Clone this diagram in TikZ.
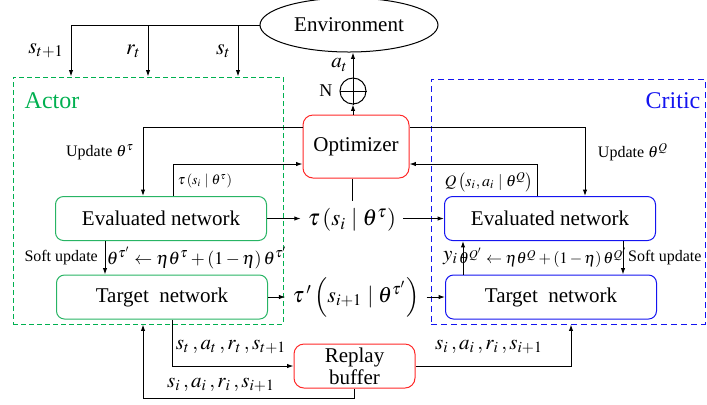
\documentclass[tikz,border=0pt]{standalone}
\usepackage{mathptmx}
\usepackage{fontspec}
\setmainfont{Liberation Serif}
\usepackage{tikz}
\usetikzlibrary{positioning, arrows.meta, shapes.geometric}

\definecolor{actgreen}{RGB}{0,176,80}
\definecolor{netgreen}{RGB}{40,180,100}
\definecolor{optred}{RGB}{255,40,40}
\definecolor{crblue}{RGB}{20,20,240}

\begin{document}
\begin{tikzpicture}[
            x=0.5pt, y=-0.5pt,
            line width=0.5pt,
            font=\fontsize{10.5}{12}\selectfont,
            arr/.style={-{Latex[length=3.2pt,width=2.2pt]}},
            netbox/.style={draw, rounded corners=4pt, minimum width=105.5pt, minimum height=22pt},
            small/.style={font=\fontsize{8}{9}\selectfont},
            tiny/.style={font=\fontsize{7}{8}\selectfont},
            eqn/.style={inner sep=0pt, font=\fontsize{8}{9}\selectfont}
        ]

            \useasboundingbox (0,0) rectangle (707,404);

            % dashed groups
            \node[draw=actgreen, dash pattern=on 2.5pt off 1.5pt, minimum width=135pt, minimum height=123.5pt] (actor) at (148,200.5) {};
            \node[draw=crblue, dash pattern=on 3pt off 2pt, minimum width=137pt, minimum height=122.5pt] (critic) at (568,201.5) {};
            \node[actgreen, font=\fontsize{12}{14}\selectfont] (actorlab) at (52,101) {Actor};
            \node[crblue, font=\fontsize{12}{14}\selectfont] (criticlab) at (673,101) {Critic};

            % main blocks
            \node[draw, ellipse, minimum width=89pt, minimum height=27pt] (env) at (349,25) {Environment};
            \node[draw, circle, minimum size=13pt, inner sep=0pt] (noise) at (353,91) {};
            \draw (noise.north) -- (noise.south) (noise.west) -- (noise.east);
            \node[left=0pt of noise, font=\fontsize{9}{10}\selectfont] (nlab) {N};
            \node[draw=optred, rounded corners=5pt, minimum width=53pt, minimum height=31.5pt] (opt) at (356,146.5) {Optimizer};
            \node[netbox, draw=netgreen] (aeval) at (161,218.5) {Evaluated network};
            \node[netbox, draw=netgreen] (atarget) at (162,297) {Target\ \ network};
            \node[netbox, draw=crblue] (ceval) at (550,218.5) {Evaluated network};
            \node[netbox, draw=crblue] (ctarget) at (551,297) {Target\ \ network};
            \node[draw=optred, rounded corners=5pt, minimum width=60.5pt, minimum height=22pt, align=center, inner sep=1pt, font=\fontsize{10.5}{11}\selectfont] (replay) at (354.5,366) {Replay\\buffer};
            \node[font=\fontsize{11.5}{13}\selectfont] (tau) at (352,220) {$\tau\left(s_i\mid\theta^{\tau}\right)$};
            \node[font=\fontsize{11}{13}\selectfont] (taup) at (356,297) {$\tau\,'\left(s_{i+1}\mid\theta^{\tau'}\right)$};

            % turning points
            \coordinate (snext) at (71,26);
            \coordinate (rt) at (148,26);
            \coordinate (st) at (238,26);
            \coordinate (updA) at (143,127);
            \coordinate (updC) at (585,127);
            \coordinate (tauA) at (173,164);
            \coordinate (qC) at (537,164);
            \coordinate (softA) at (105,258);
            \coordinate (softC) at (623,258);
            \coordinate (yC) at (463,258);
            \coordinate (repA) at (172,366);
            \coordinate (backA) at (143,398);
            \coordinate (repC) at (571,366);

            % environment loop
            \draw[arr] (env.west) -| (snext |- actor.north);
            \draw[arr] (rt) -- (rt |- actor.north);
            \draw[arr] (st) -- (st |- actor.north);
            \node[left, font=\fontsize{11}{12}\selectfont] (snextlab) at (71,51) {$s_{t+1}$};
            \node[left, font=\fontsize{11}{12}\selectfont] (rtlab) at (148,51) {$r_t$};
            \node[left, font=\fontsize{11}{12}\selectfont] (stlab) at (238,51) {$s_t$};
            \draw[arr] (opt.north -| noise) -- (noise.south);
            \draw[arr] (noise.north) -- (noise.north |- env.south) node[midway, left=-1pt] (atlab) {$a_t$};

            % optimizer
            \draw[arr] (opt.west |- updA) -| (updA |- aeval.north);
            \node[small] (updAlab) at (100,152) {Update $\theta^{\tau}$};
            \draw[arr] (tauA |- aeval.north) |- (opt.west |- tauA);
            \node[tiny] (taulab) at (205,181) {$\tau\left(s_i\mid\theta^{\tau}\right)$};
            \draw[arr] (opt.east |- updC) -| (updC |- ceval.north);
            \node[small] (updClab) at (633,152) {Update $\theta^{Q}$};
            \draw[arr] (qC |- ceval.north) |- (opt.east |- qC);
            \node[small] (qlab) at (489,182) {$Q\left(s_i,a_i\mid\theta^{Q}\right)$};

            % networks
            \draw[arr] (aeval.east) -- (aeval.east -| tau.west);
            \draw (opt.south -| tau) -- (tau.north);
            \draw[arr] (tau.east |- ceval.west) -- (ceval.west);
            \draw[arr] (atarget.east) -- (atarget.east -| taup.west);
            \draw[arr] (taup.east |- ctarget.west) -- (ctarget.west);
            \draw[arr] (softA |- aeval.south) -- (softA |- atarget.north);
            \node[small, left] (softAlab) at (softA) {Soft update};
            \node[eqn, font=\fontsize{9}{10}\selectfont] (softAeq) at (197,258) {$\theta^{\tau'}\leftarrow\eta\theta^{\tau}+\left(1-\eta\right)\theta^{\tau'}$};
            \draw[arr] (softC |- ceval.south) -- (softC |- ctarget.north);
            \node[small, right=-1pt] (softClab) at (softC) {Soft update};
            \draw[arr] (yC |- ctarget.north) -- (yC |- ceval.south);
            \node[left=-1pt] (ylab) at (yC) {$y_i$};
            \node[eqn] (softCeq) at (543,258) {$\theta^{Q'}\leftarrow\eta\theta^{Q}+\left(1-\eta\right)\theta^{Q'}$};

            % replay buffer
            \draw[arr] (repA |- atarget.south) |- (replay.west);
            \node (saA) at (231,347) {$s_t\,,a_t\,,r_t\,,s_{t+1}$};
            \draw[arr] (replay.south) |- (backA) -- (backA |- actor.south);
            \node (sbA) at (221,385) {$s_i\,,a_i\,,r_i\,,s_{i+1}$};
            \draw[arr] (replay.east) -| (repC |- critic.south);
            \node (sC) at (489,347) {$s_i\,,a_i\,,r_i\,,s_{i+1}$};
        \end{tikzpicture}
\end{document}
